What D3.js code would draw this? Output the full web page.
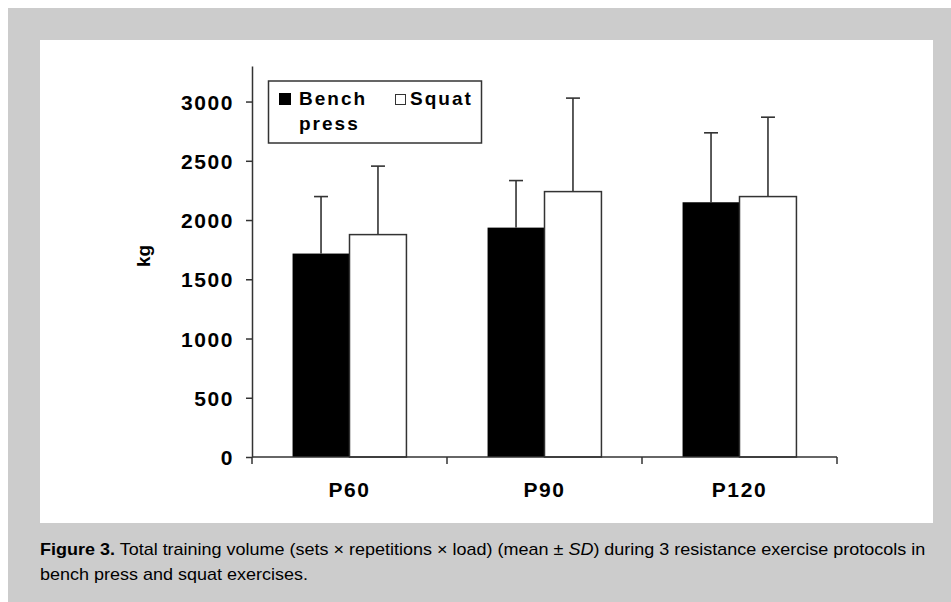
<!DOCTYPE html>
<html>
<head>
<meta charset="utf-8">
<script src="https://cdn.jsdelivr.net/npm/d3@7/dist/d3.min.js"></script>
<style>
  html, body { margin: 0; padding: 0; background: #fff; }
  svg { display: block; }
  text { font-family: "Liberation Sans", Arial, sans-serif; }
</style>
</head>
<body>
<svg id="fig" width="951" height="602"></svg>
<script>
// Protocols and series
const protocols = ["P60", "P90", "P120"];
const seriesNames = ["Bench press", "Squat"];
// Mean total training volume (kg)
const benchMean = [1717, 1936, 2150];
const squatMean = [1877, 2240, 2198];
// Standard deviations (kg)
const benchSD = [481, 397, 586];
const squatSD = [578, 789, 670];
// Y axis ticks
const yTicks = [0, 500, 1000, 1500, 2000, 2500, 3000];

const svg = d3.select("#fig");

// Grey figure frame with white plot panel
svg.append("rect").attr("x", 8).attr("y", 8).attr("width", 943).attr("height", 594).attr("fill", "#cccccc");
svg.append("rect").attr("x", 40).attr("y", 40).attr("width", 893).attr("height", 483).attr("fill", "#ffffff");

const axisColor = "#333";
const x0 = d3.scaleBand().domain(protocols).range([252, 837]).paddingInner(0).paddingOuter(0);
const y = d3.scaleLinear().domain([0, 3300]).range([457, 66]);

const g = svg.append("g");

// Bars
const barW = x0.bandwidth() * 0.292;
const rows = protocols.map((p, i) => ({ p, bench: benchMean[i], squat: squatMean[i], bsd: benchSD[i], ssd: squatSD[i] }));

// Error bars first so the bar outlines sit on top
const errs = [];
rows.forEach(r => {
  const c = x0(r.p) + x0.bandwidth() / 2;
  errs.push({ cx: c - barW / 2, m: r.bench, sd: r.bsd });
  errs.push({ cx: c + barW / 2, m: r.squat, sd: r.ssd });
});
const eg = g.append("g").attr("stroke", axisColor).attr("stroke-width", 1.6);
eg.selectAll("line.v").data(errs).join("line")
  .attr("x1", d => d.cx).attr("x2", d => d.cx)
  .attr("y1", d => y(d.m)).attr("y2", d => y(d.m + d.sd));
eg.selectAll("line.h").data(errs).join("line")
  .attr("x1", d => d.cx - 7).attr("x2", d => d.cx + 7)
  .attr("y1", d => y(d.m + d.sd)).attr("y2", d => y(d.m + d.sd));

g.selectAll("rect.bench").data(rows).join("rect")
  .attr("class", "bench")
  .attr("x", d => x0(d.p) + x0.bandwidth() / 2 - barW)
  .attr("width", barW)
  .attr("y", d => y(d.bench))
  .attr("height", d => y(0) - y(d.bench))
  .attr("fill", "#000");

g.selectAll("rect.squat").data(rows).join("rect")
  .attr("class", "squat")
  .attr("x", d => x0(d.p) + x0.bandwidth() / 2)
  .attr("width", barW)
  .attr("y", d => y(d.squat))
  .attr("height", d => y(0) - y(d.squat))
  .attr("fill", "#fff")
  .attr("stroke", axisColor)
  .attr("stroke-width", 1.5);

// Y axis
const yAxis = g.append("g").attr("transform", "translate(252,0)")
  .call(d3.axisLeft(y).tickValues(yTicks).tickFormat(d3.format("d"))
    .tickSize(6).tickSizeOuter(0).tickPadding(12));
yAxis.select(".domain").attr("stroke", axisColor).attr("stroke-width", 1.5);
yAxis.selectAll(".tick line").attr("stroke", axisColor).attr("stroke-width", 1.5);
yAxis.selectAll(".tick text")
  .attr("font-size", 21).attr("font-weight", "bold").attr("fill", "#000")
  .attr("letter-spacing", 1.6).attr("dy", "0.36em");

// X axis: domain line plus ticks at category boundaries
const xg = g.append("g");
xg.append("line").attr("x1", x0.range()[0]).attr("x2", x0.range()[1])
  .attr("y1", y(0)).attr("y2", y(0)).attr("stroke", axisColor).attr("stroke-width", 1.5);
const bounds = protocols.map(p => x0(p)).concat([x0.range()[1]]);
xg.selectAll("line.tk").data(bounds).join("line")
  .attr("x1", d => d).attr("x2", d => d)
  .attr("y1", y(0)).attr("y2", y(0) + 7)
  .attr("stroke", axisColor).attr("stroke-width", 1.5);
xg.selectAll("text").data(protocols).join("text")
  .attr("x", d => x0(d) + x0.bandwidth() / 2)
  .attr("y", 497)
  .attr("text-anchor", "middle")
  .attr("font-size", 21).attr("font-weight", "bold").attr("letter-spacing", 1.6)
  .text(d => d);

// Y axis title
svg.append("text")
  .attr("transform", "translate(150,256) rotate(-90)")
  .attr("text-anchor", "middle")
  .attr("font-size", 19).attr("font-weight", "bold")
  .text("kg");

// Legend
const lg = svg.append("g");
lg.append("rect").attr("x", 268.5).attr("y", 81).attr("width", 213).attr("height", 62)
  .attr("fill", "#fff").attr("stroke", axisColor).attr("stroke-width", 1.5);
lg.append("rect").attr("x", 279).attr("y", 93).attr("width", 12).attr("height", 12).attr("fill", "#000");
lg.append("rect").attr("x", 395.5).attr("y", 94.5).attr("width", 10).attr("height", 10)
  .attr("fill", "#fff").attr("stroke", axisColor).attr("stroke-width", 1);
const lt = lg.append("g").attr("font-size", 19).attr("font-weight", "bold").attr("letter-spacing", 2);
const benchWords = seriesNames[0].split(" ");
lt.append("text").attr("x", 299).attr("y", 105).text(benchWords[0]);
lt.append("text").attr("x", 299).attr("y", 130).text(benchWords[1]);
lt.append("text").attr("x", 410).attr("y", 105).text(seriesNames[1]);

// Caption
const cap = svg.append("g").attr("font-size", 16).attr("fill", "#000");
const l1 = cap.append("text").attr("x", 0).attr("y", 0);
l1.append("tspan").attr("font-weight", "bold").text("Figure 3.");
l1.append("tspan").text(" Total training volume (sets \u00d7 repetitions \u00d7 load) (mean \u00b1 ");
l1.append("tspan").attr("font-style", "italic").text("SD");
l1.append("tspan").text(") during 3 resistance exercise protocols in");
const l2 = cap.append("text").attr("x", 0).attr("y", 25).text("bench press and squat exercises.");
const w1 = l1.node().getComputedTextLength();
const sx = 886 / w1;
cap.attr("transform", `translate(40,555) scale(${sx},1)`);
</script>
</body>
</html>
